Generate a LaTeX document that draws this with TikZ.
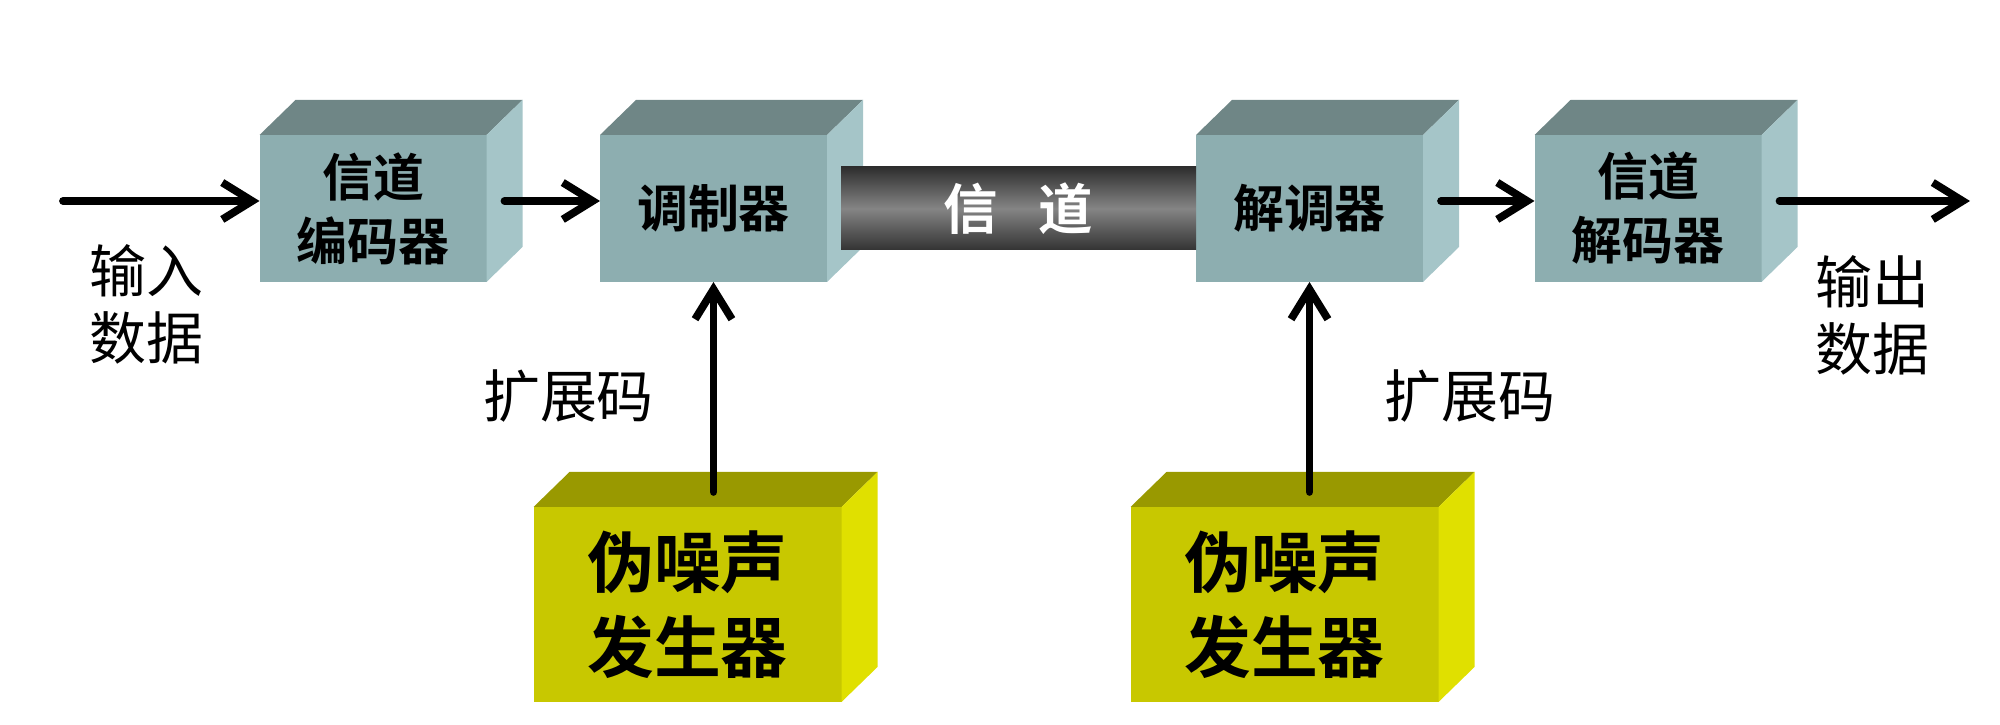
\documentclass[tikz,border=0pt]{standalone}
\usepackage{fontspec}
\newfontfamily\cjk{Noto Sans CJK SC}
\newfontfamily\cjkbf{Noto Sans CJK SC Bold}
\usetikzlibrary{arrows.meta,calc,positioning}

\definecolor{boxfront}{HTML}{8DAEB0}
\definecolor{boxtop}{HTML}{6F8686}
\definecolor{boxside}{HTML}{A5C5C8}
\definecolor{genfront}{HTML}{C8C800}
\definecolor{gentop}{HTML}{999900}
\definecolor{genside}{HTML}{E0E000}

\tikzset{
  block/.style={fill=boxfront, minimum width=2.27cm, minimum height=1.47cm,
    inner sep=0pt, outer sep=0pt, align=center,
    execute at begin node={\vspace*{3.4pt}},
    font=\cjkbf\fontsize{14.5pt}{18.2pt}\selectfont},
  gen/.style={fill=genfront, minimum width=3.08cm, minimum height=1.95cm,
    inner sep=0pt, outer sep=0pt, align=center,
    execute at begin node={\vspace*{3.4pt}},
    font=\cjkbf\fontsize{19pt}{24.2pt}\selectfont},
  lbl/.style={align=center, inner sep=0pt, font=\cjk\fontsize{16.2pt}{19.1pt}\selectfont},
  flow/.style={line width=2.2pt, line cap=round,
    -{Straight Barb[length=8.5pt,width=10.5pt]}},
}
% top and side faces of a box drawn as a node
\newcommand{\cubefaces}[3]{%
  \fill[#2] (#1.north west) -- ++(0.36,0.35) -- ($(#1.north east)+(0.36,0.35)$) -- (#1.north east) -- cycle;
  \fill[#3] (#1.north east) -- ++(0.36,0.35) -- ($(#1.south east)+(0.36,0.35)$) -- (#1.south east) -- cycle;
}

\begin{document}
\begin{tikzpicture}
  \useasboundingbox (0,0) rectangle (20,7.25);
  % upper chain
  \node[block] (enc) at (3.73,5.165) {信道\\编码器};
  \node[block] (mod) at (7.135,5.165) {调制器};
  \node[block] (dem) at (13.095,5.165) {解调器};
  \node[block] (dec) at (16.48,5.165) {信道\\解码器};
  \cubefaces{enc}{boxtop}{boxside}
  \cubefaces{mod}{boxtop}{boxside}
  \cubefaces{dem}{boxtop}{boxside}
  \cubefaces{dec}{boxtop}{boxside}
  % pn generators
  \node[gen] (gen1) at (6.875,1.205) {伪噪声\\发生器};
  \node[gen] (gen2) at (12.845,1.205) {伪噪声\\发生器};
  \cubefaces{gen1}{gentop}{genside}
  \cubefaces{gen2}{gentop}{genside}
  % channel
  \node[minimum width=3.55cm, minimum height=0.83cm, inner sep=0pt,
    top color=black!82, bottom color=black!80, middle color=black!48,
    text=white, font=\cjkbf\fontsize{15.5pt}{18pt}\selectfont]
    (chan) at (10.185,5.165) {信\hspace{0.75em}道};
  % arrows
  \coordinate (in) at (0.63,5.24);
  \coordinate (out) at (19.70,5.24);
  \coordinate (gen1 top) at ($(gen1.north)+(0.18,0.15)$);
  \coordinate (gen2 top) at ($(gen2.north)+(0.18,0.15)$);
  \draw[flow] (in) -- (enc.west |- in);
  \draw[flow] ($(enc.east |- in)+(0.18,0)$) -- (mod.west |- in);
  \draw[flow] ($(dem.east |- in)+(0.18,0)$) -- (dec.west |- in);
  \draw[flow] ($(dec.east |- in)+(0.18,0)$) -- (out);
  \draw[flow] (mod.south |- gen1 top) -- (mod.south);
  \draw[flow] (dem.south |- gen2 top) -- (dem.south);
  % labels
  \node[lbl] (indata) at (1.465,4.21) {输入\\数据};
  \node[lbl] (outdata) at (18.72,4.095) {输出\\数据};
  \node[lbl] (code1) at (5.685,3.29) {扩展码};
  \node[lbl] (code2) at (14.70,3.29) {扩展码};
\end{tikzpicture}
\end{document}
